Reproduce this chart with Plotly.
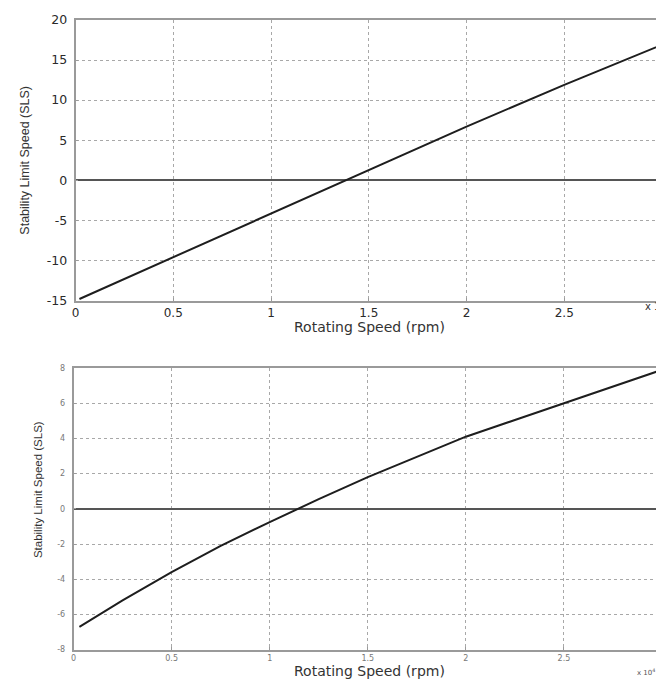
import plotly.graph_objects as go

# Top chart data
x_top = [0.02, 0.5, 1.0, 1.5, 2.0, 2.5, 3.0]
y_top = [-14.8, -9.6, -4.2, 1.3, 6.7, 11.9, 16.9]

# Bottom chart data
x_bot = [0.03, 0.25, 0.5, 0.75, 1.0, 1.25, 1.5, 1.75, 2.0, 2.25, 2.5, 2.75, 3.0]
y_bot = [-6.7, -5.2, -3.6, -2.1, -0.75, 0.55, 1.8, 2.95, 4.1, 5.05, 6.0, 6.95, 7.9]

x_ticks = [0, 0.5, 1, 1.5, 2, 2.5, 3]
x_ticklabels = ["0", "0.5", "1", "1.5", "2", "2.5", "3"]
y_top_ticks = [-15, -10, -5, 0, 5, 10, 15, 20]
y_top_labels = ["-15", "-10", "-5", "0", "5", "10", "15", "20"]
y_bot_ticks = [-8, -6, -4, -2, 0, 2, 4, 6, 8]
y_bot_labels = ["-8", "-6", "-4", "-2", "0", "2", "4", "6", "8"]

OFF = 8  # page offset of the figure inside the browser window
W, H = 664 - OFF, 687 - OFF


def px(x):
    return (x - OFF) / W


def py(y):
    return 1 - (y - OFF) / H


fig = go.Figure()
fig.add_trace(go.Scatter(x=x_top, y=y_top, mode="lines",
                         line=dict(color="#1e1e1e", width=2),
                         xaxis="x", yaxis="y", showlegend=False))
fig.add_trace(go.Scatter(x=x_bot, y=y_bot, mode="lines",
                         line=dict(color="#1e1e1e", width=2),
                         xaxis="x2", yaxis="y2", showlegend=False))

axis_common = dict(showline=True, mirror=True, linecolor="#9a9a9a", linewidth=1.5,
                   showgrid=True, gridcolor="#a8a8a8", griddash="dot", gridwidth=1,
                   ticks="inside", ticklen=3, tickcolor="#9a9a9a")

fig.update_layout(
    width=W, height=H,
    margin=dict(l=0, r=0, t=0, b=0),
    paper_bgcolor="white", plot_bgcolor="white",
    xaxis=dict(domain=[px(72), px(663)], range=[0, 3], tickvals=x_ticks,
               ticktext=x_ticklabels, zeroline=False, anchor="y",
               tickfont=dict(family="DejaVu Sans", size=12, color="#2a2a2a"),
               ticklabelstandoff=0, **axis_common),
    yaxis=dict(domain=[py(299), py(12)], range=[-15, 20], tickvals=y_top_ticks,
               ticktext=y_top_labels,
               zeroline=True, zerolinecolor="#555555", zerolinewidth=2, anchor="x",
               tickfont=dict(family="DejaVu Sans", size=12.5, color="#2a2a2a"),
               ticklabelstandoff=4, **axis_common),
    xaxis2=dict(domain=[px(70), px(663)], range=[0, 3], tickvals=x_ticks,
                ticktext=x_ticklabels, zeroline=False, anchor="y2",
                tickfont=dict(family="DejaVu Sans", size=8, color="#777777"),
                ticklabelstandoff=0, **axis_common),
    yaxis2=dict(domain=[py(656), py(368)], range=[-8, 8], tickvals=y_bot_ticks,
                ticktext=y_bot_labels,
                zeroline=True, zerolinecolor="#555555", zerolinewidth=2, anchor="x2",
                tickfont=dict(family="DejaVu Sans", size=8, color="#777777"),
                ticklabelstandoff=5, **axis_common),
)

ann = []
ann.append(dict(text="Stability Limit Speed (SLS)", x=px(21), y=py(155), xref="paper", yref="paper",
                showarrow=False, textangle=-90, xanchor="center", yanchor="middle",
                font=dict(family="Liberation Sans", size=12.5, color="#333333")))
ann.append(dict(text="Stability Limit Speed (SLS)", x=px(35), y=py(492), xref="paper", yref="paper",
                showarrow=False, textangle=-90, xanchor="center", yanchor="middle",
                font=dict(family="Liberation Sans", size=11.5, color="#333333")))
ann.append(dict(text="Rotating Speed (rpm)", x=px(368), y=py(326), xref="paper", yref="paper",
                showarrow=False, xanchor="center", yanchor="middle",
                font=dict(family="DejaVu Sans", size=14, color="#333333")))
ann.append(dict(text="Rotating Speed (rpm)", x=px(368), y=py(678), xref="paper", yref="paper",
                showarrow=False, xanchor="center", yanchor="middle",
                font=dict(family="DejaVu Sans", size=14, color="#333333")))
ann.append(dict(text="x 10<sup>4</sup>", x=px(644), y=py(305), xref="paper", yref="paper",
                showarrow=False, xanchor="left", yanchor="middle",
                font=dict(family="DejaVu Sans", size=10, color="#333333")))
ann.append(dict(text="x 10<sup>4</sup>", x=px(636), y=py(679), xref="paper", yref="paper",
                showarrow=False, xanchor="left", yanchor="middle",
                font=dict(family="DejaVu Sans", size=7, color="#555555")))
fig.update_layout(annotations=ann)

fig.write_html("out.html")
